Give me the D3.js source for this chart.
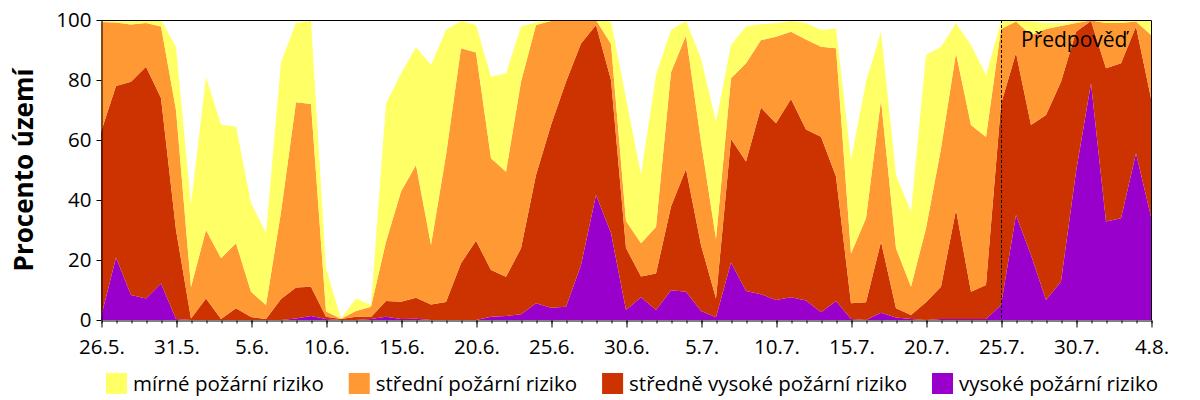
<!DOCTYPE html>
<html lang="cs">
<head>
<meta charset="utf-8">
<script src="https://cdn.jsdelivr.net/npm/d3@7"></script>
<style>
  html, body { margin: 0; padding: 0; background: #fff; }
  svg { display: block; font-family: "Open Sans", sans-serif; }
</style>
</head>
<body>
<div id="chart"></div>
<script>
// podíly území (%) pro každý den od 26.5. do 4.8.
const vysoke = [
  1, 20.8, 8.3, 7.2, 12.2, 0.3, 0, 0, 0, 0,
  0, 0, 0, 0.5, 1.3, 0.3, 0, 0, 0.3, 1.1,
  0.3, 0.4, 0, 0, 0, 0, 1.1, 1.3, 1.9, 5.6,
  4.1, 4.4, 18.3, 41.7, 29, 3.3, 7.6, 3.3, 9.9, 9.4,
  3, 0.9, 19.2, 9.7, 8.6, 6.7, 7.6, 6.5, 2.6, 6.3,
  0.3, 0, 2.4, 0.8, 0.3, 0, 0.3, 0.3, 0.3, 0.3,
  5, 35, 21.7, 6.7, 12.8, 49.4, 78.9, 32.8, 33.9, 55.6, 34.4
];
const stredneVysoke = [
  61.7, 57.2, 71.1, 77.2, 61.8, 29.7, 0.5, 7.2, 0.3, 3.9,
  1, 0.3, 7, 10.3, 9.8, 0.8, 0.3, 1.1, 0.7, 5.2,
  5.8, 7, 5.2, 6, 18.9, 26.4, 15.6, 13.1, 22, 42.7,
  60.9, 75, 73.9, 56.6, 51, 20.7, 6.9, 12.2, 27.9, 40.9,
  22, 6.3, 41.1, 43.1, 62.2, 58.9, 66.1, 57, 58.5, 41.5,
  5.3, 5.9, 23.7, 3.1, 1.4, 5.9, 10.8, 36.4, 9.1, 11.4,
  67, 54, 43.3, 61.6, 66.6, 46.7, 20.8, 51.1, 51.7, 42.2, 39.5
];
const stredni = [
  36.6, 21.2, 19.1, 14.6, 23.8, 40, 10.5, 22.8, 20.3, 21.7,
  8.4, 4.7, 29, 61.8, 60.9, 1.7, 0.1, 1.9, 3.4, 19.8,
  36.7, 44.3, 19.8, 49, 71.7, 62.8, 37.2, 35, 55.5, 50,
  34.7, 20.6, 7.8, 1.7, 12, 9, 11.1, 15.5, 44.8, 44.5,
  34.4, 19.8, 20.3, 32.8, 22.5, 28.8, 22.4, 30, 30, 42.8,
  16.6, 28, 47.2, 20, 9.4, 24.7, 46.1, 52.2, 55.6, 49.3,
  25, 10.5, 30, 28.7, 18.6, 2.9, 0.1, 15.1, 13.4, 1.7, 21.1
];
const mirne = [
  0.7, 0.4, 1, 1, 2.2, 21, 27.5, 51, 44.6, 38.8,
  29.6, 24, 50, 26.4, 27.7, 14.4, 0.1, 4.2, 0.6, 46.1,
  39.4, 39.2, 60, 41.7, 9.1, 9.1, 27.2, 32.8, 18.4, 0.9,
  0.3, 0, 0, 0, 7.5, 41, 22.7, 50.7, 14.1, 4.9,
  27.8, 39.1, 11.1, 12.2, 5.3, 4.5, 3.6, 5.5, 5.6, 6.6,
  31.1, 45.5, 22.8, 24.4, 25, 57.7, 33.9, 10, 26.7, 20.7,
  2.5, 0.5, 4.5, 2, 1, 0.5, 0.2, 1, 0.5, 0.5, 4.5
];

const prvniDen = new Date(2019, 4, 26);
const posledniDen = new Date(2019, 7, 4);
const zacatekPredpovedi = new Date(2019, 6, 25);
const yTicks = [0, 20, 40, 60, 80, 100];

const serie = [
  { key: "vysoke", label: "vysoké požární riziko", color: "#9900CC", values: vysoke },
  { key: "stredneVysoke", label: "středně vysoké požární riziko", color: "#CC3300", values: stredneVysoke },
  { key: "stredni", label: "střední požární riziko", color: "#FF9933", values: stredni },
  { key: "mirne", label: "mírné požární riziko", color: "#FFFF66", values: mirne }
];

const width = 1200;
const height = 400;
const margin = { top: 20, right: 49, bottom: 80, left: 101 };

const dny = d3.timeDay.range(prvniDen, d3.timeDay.offset(posledniDen, 1));
const table = dny.map((d, i) => {
  const row = { date: d };
  serie.forEach(s => { row[s.key] = s.values[i]; });
  return row;
});

const svg = d3.select("#chart").append("svg")
  .attr("width", width)
  .attr("height", height);

const x = d3.scaleTime()
  .domain([prvniDen, posledniDen])
  .range([margin.left, width - margin.right]);

const y = d3.scaleLinear()
  .domain([0, 100])
  .range([height - margin.bottom, margin.top]);

const stacked = d3.stack().keys(serie.map(s => s.key))(table);

const area = d3.area()
  .x(d => x(d.data.date))
  .y0(d => y(d[0]))
  .y1(d => y(d[1]));

svg.append("g").attr("class", "areas")
  .selectAll("path")
  .data(stacked)
  .enter().append("path")
  .attr("d", area)
  .attr("fill", (d, i) => serie[i].color);

// forecast divider
svg.append("line")
  .attr("x1", x(zacatekPredpovedi) + 0.5)
  .attr("x2", x(zacatekPredpovedi) + 0.5)
  .attr("y1", y(100))
  .attr("y2", y(0))
  .attr("stroke", "#000")
  .attr("stroke-width", 1)
  .attr("stroke-dasharray", "3,2");

svg.append("text")
  .attr("x", x(zacatekPredpovedi) + 20)
  .attr("y", y(100) + 27)
  .attr("font-size", 21)
  .attr("fill", "#000")
  .text("Předpověď");

// frame top + right
svg.append("path")
  .attr("d", `M${x.range()[0]},${y(100) + 0.5}H${x.range()[1] + 0.5}V${y(0)}`)
  .attr("fill", "none")
  .attr("stroke", "#000");

// x axis: day minor ticks, 5-day labelled ticks
const xMinor = svg.append("g")
  .attr("transform", `translate(0.5,${y(0) + 0.5})`)
  .call(d3.axisBottom(x).tickValues(dny).tickSize(3).tickFormat(""));
xMinor.select(".domain").remove();

const xAxis = svg.append("g")
  .attr("transform", `translate(0.5,${y(0) + 0.5})`)
  .call(d3.axisBottom(x)
    .tickValues(d3.timeDay.range(prvniDen, d3.timeDay.offset(posledniDen, 1), 5))
    .tickSize(7)
    .tickSizeOuter(0)
    .tickFormat(d3.timeFormat("%-d.%-m.")));
xAxis.selectAll("text")
  .attr("font-size", 20.5)
  .attr("font-family", "Open Sans")
  .attr("fill", "#000")
  .attr("dy", "1.15em");

const yAxis = svg.append("g")
  .attr("transform", `translate(${margin.left + 0.5},0)`)
  .call(d3.axisLeft(y).tickValues(yTicks).tickSize(5).tickSizeOuter(0).tickPadding(5));
yAxis.selectAll("text")
  .attr("font-size", 20.5)
  .attr("font-family", "Open Sans")
  .attr("fill", "#000");
svg.selectAll(".domain, .tick line").attr("stroke", "#000");

svg.append("text")
  .attr("transform", `translate(33,${(y(0) + y(100)) / 2}) rotate(-90)`)
  .attr("text-anchor", "middle")
  .attr("font-size", 26)
  .attr("font-weight", "bold")
  .attr("fill", "#000")
  .text("Procento území");

// legend
const legendOrder = serie.slice().reverse();
const legend = svg.append("g").attr("class", "legend");
const items = legend.selectAll("g")
  .data(legendOrder)
  .enter().append("g");
items.append("rect")
  .attr("width", 21)
  .attr("height", 21)
  .attr("y", 373)
  .attr("fill", d => d.color);
items.append("text")
  .attr("x", 27)
  .attr("y", 391)
  .attr("font-size", 20.5)
  .attr("fill", "#000")
  .text(d => d.label);

let cursor = 0;
const offsets = [];
items.each(function() {
  offsets.push(cursor);
  const w = d3.select(this).select("text").node().getComputedTextLength();
  cursor += 27 + w + 25;
});
const totalW = cursor - 25;
const startX = 632 - totalW / 2;
items.attr("transform", (d, i) => `translate(${startX + offsets[i]},0)`);
</script>
</body>
</html>
